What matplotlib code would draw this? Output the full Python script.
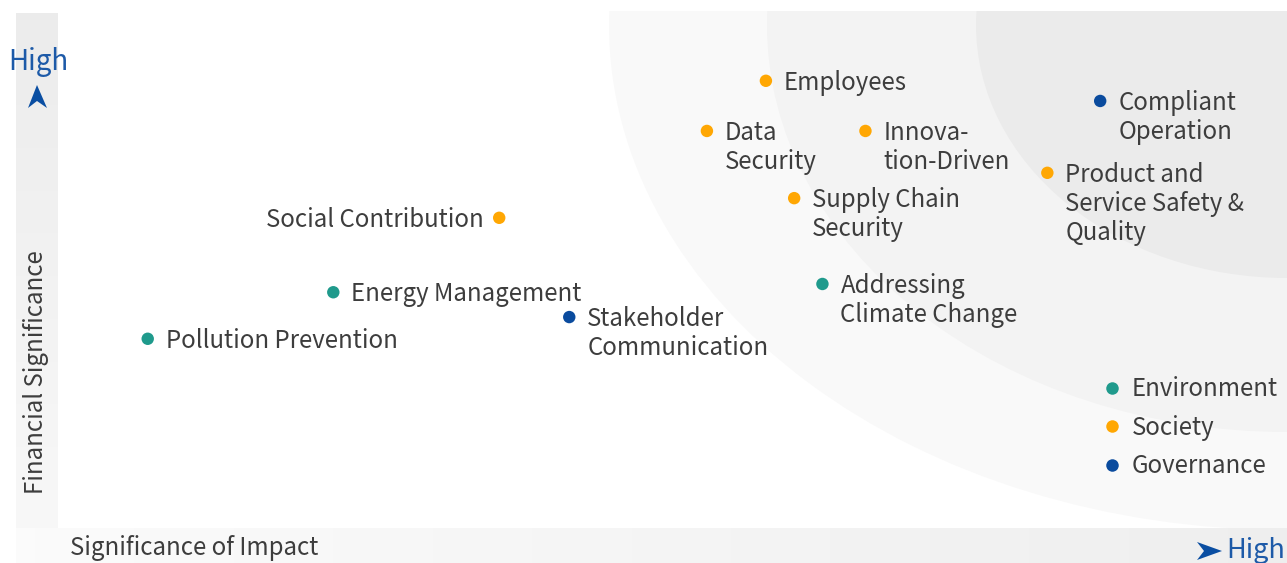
import matplotlib
matplotlib.use("Agg")
import matplotlib.pyplot as plt
import numpy as np
from matplotlib.patches import Ellipse, Polygon
from matplotlib.lines import Line2D

plt.rcParams['font.family'] = ['Noto Sans CJK SC', 'DejaVu Sans']

# ---- data (0-10 scales) ----
topics = ["Employees", "Data\nSecurity", "Innova-\ntion-Driven", "Compliant\nOperation",
          "Product and\nService Safety &\nQuality", "Supply Chain\nSecurity",
          "Social Contribution", "Addressing\nClimate Change", "Energy Management",
          "Stakeholder\nCommunication", "Pollution Prevention"]
impact = [5.76, 5.28, 6.57, 8.48, 8.05, 5.99, 3.59, 6.22, 2.24, 4.16, 0.73]
financial = [8.65, 7.68, 7.68, 8.26, 6.87, 6.38, 6.00, 4.72, 4.56, 4.08, 3.66]
dimension = ["Society", "Society", "Society", "Governance", "Society", "Society",
             "Society", "Environment", "Environment", "Governance", "Environment"]
label_side = ["right", "right", "right", "right", "right", "right",
              "left", "right", "right", "right", "right"]
legend_names = ["Environment", "Society", "Governance"]
dim_colors = {"Environment": "#1f9a8c", "Society": "#ffa703", "Governance": "#0a4b9e"}
x_label = "Significance of Impact"
y_label = "Financial Significance"
high_text = "High"

TEXT = "#3d3d3d"
BLUE = "#1d5aa8"
FS = 17.3
W, H = 1287, 563
fig = plt.figure(figsize=(W / 100, H / 100), dpi=100)
fig.patch.set_facecolor("white")

# background axes in pixel coords
bg = fig.add_axes([0, 0, 1, 1])
bg.axis('off')
lg = np.linspace(0.925, 0.972, 200).reshape(-1, 1)
bg.imshow(np.dstack([lg, lg, lg]), extent=(16, 58, 528, 13), aspect='auto', origin='upper',
          interpolation='bilinear')
bgrad = np.linspace(0.985, 0.935, 400).reshape(1, -1)
bg.imshow(np.dstack([bgrad, bgrad, bgrad]), extent=(16, W, 563, 528), aspect='auto',
          origin='upper', interpolation='bilinear')
bg.add_patch(Polygon([(37, 85), (28, 108), (37, 101), (47, 108)], closed=True,
                     facecolor="#0a4ea2", edgecolor='none'))
bg.add_patch(Polygon([(1222, 551), (1197, 542), (1204, 551), (1197, 560)], closed=True,
                     facecolor="#0a4ea2", edgecolor='none'))
bg.text(38, 62, high_text, color=BLUE, fontsize=20, ha='center', va='center')
bg.text(1285, 550, high_text, color=BLUE, fontsize=19.5, ha='right', va='center')
bg.text(36, 372, y_label, color=TEXT, fontsize=FS, rotation=90, ha='center', va='center')
bg.text(70, 548, x_label, color=TEXT, fontsize=FS, ha='left', va='center')
bg.set_xlim(0, W)
bg.set_ylim(H, 0)

# main plot axes
L, R, T, B = 58, 1287, 11, 528
ax = fig.add_axes([L / W, (H - B) / H, (R - L) / W, (B - T) / H])
ax.set_xlim(0, 10)
ax.set_ylim(0, 10)
ax.axis('off')
ax.patch.set_alpha(0)
pxu = (R - L) / 10.0
pyu = (B - T) / 10.0
cy = (B - 25) / pyu
for a, b, col in [(678, 505, "#f9f9f9"), (520, 407, "#f3f3f3"), (311, 253, "#ebebeb")]:
    e = Ellipse((10, cy), 2 * a / pxu, 2 * b / pyu, facecolor=col, edgecolor='none', zorder=1)
    ax.add_patch(e)

cols = [dim_colors[d] for d in dimension]
ax.scatter(impact, financial, c=cols, s=80, zorder=3, clip_on=False, linewidths=0)
for t, x, y, side in zip(topics, impact, financial, label_side):
    if side == "right":
        ax.annotate(t, (x, y), xytext=(18, 11), textcoords='offset pixels', ha='left',
                    va='top', fontsize=FS, color=TEXT, linespacing=1.165, zorder=4)
    else:
        ax.annotate(t, (x, y), xytext=(-15, 11), textcoords='offset pixels', ha='right',
                    va='top', fontsize=FS, color=TEXT, linespacing=1.165, zorder=4)

handles = [Line2D([], [], marker='o', linestyle='none', markersize=9,
                  markerfacecolor=dim_colors[n], markeredgewidth=0) for n in legend_names]
leg = ax.legend(handles, legend_names, loc='upper left',
                bbox_to_anchor=((1105 - L) / (R - L), (B - 376) / (B - T)),
                frameon=False, fontsize=FS, handlelength=0.6, handletextpad=0.5,
                labelspacing=0.53, borderpad=0, borderaxespad=0)
for txt in leg.get_texts():
    txt.set_color(TEXT)

fig.savefig("out.png", dpi=100)
